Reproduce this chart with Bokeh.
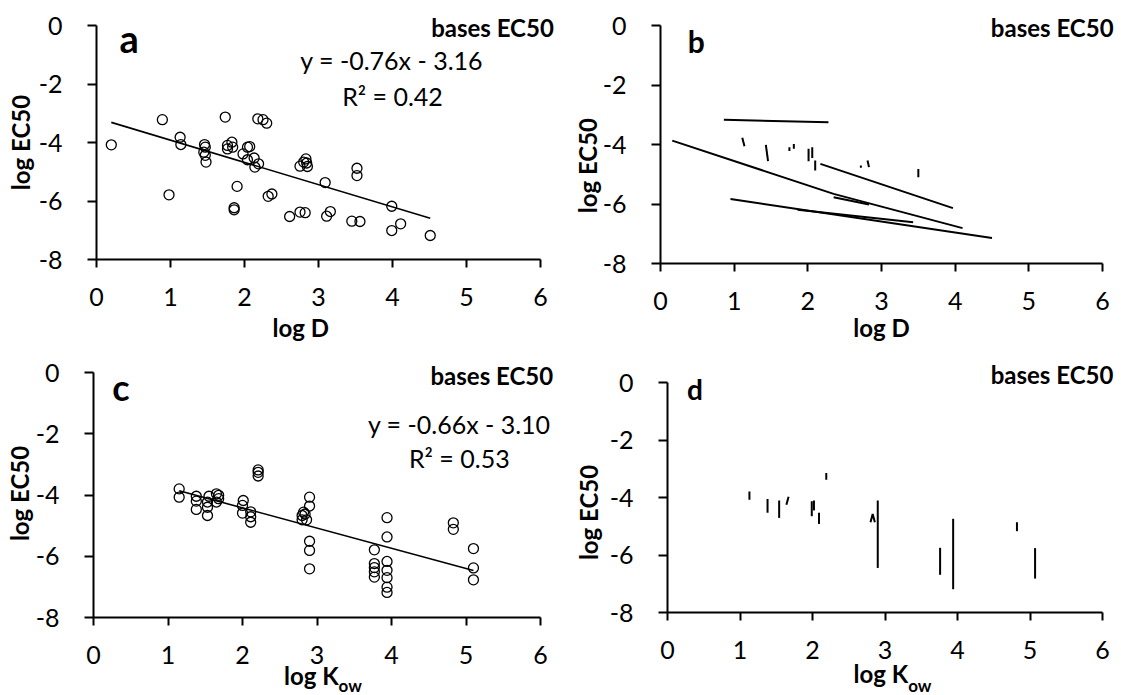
import math
from bokeh.plotting import figure
from bokeh.models import Range1d, FixedTicker, Label
from bokeh.layouts import gridplot
from bokeh.embed import file_html
from bokeh.resources import INLINE

# ---------------- data ----------------
x_ticks = [0, 1, 2, 3, 4, 5, 6]
y_ticks = [-8, -6, -4, -2, 0]
y_tick_labels = {-8: "-8", -6: "-6", -4: "-4", -2: "-2", 0: "0"}

# panel a: log D vs log EC50
a_x = [0.20, 0.89, 0.98, 1.13, 1.14, 1.46, 1.47, 1.45, 1.47, 1.48, 1.74, 1.77, 1.77,
       1.83, 1.84, 1.90, 1.86, 1.86, 1.98, 2.04, 2.07, 2.04, 2.13, 2.14, 2.19, 2.18,
       2.25, 2.30, 2.32, 2.37, 2.61, 2.75, 2.82, 2.75, 2.80, 2.83, 2.85, 2.84, 3.09,
       3.11, 3.16, 3.45, 3.56, 3.52, 3.52, 3.99, 3.99, 4.11, 4.51]
a_y = [-4.08, -3.22, -5.79, -3.82, -4.07, -4.07, -4.16, -4.33, -4.44, -4.67, -3.13, -4.10, -4.22,
       -3.99, -4.16, -5.50, -6.23, -6.30, -4.39, -4.16, -4.14, -4.59, -4.53, -4.84, -4.73, -3.19,
       -3.22, -3.34, -5.84, -5.76, -6.53, -6.38, -6.40, -4.81, -4.67, -4.56, -4.82, -4.70, -5.37,
       -6.52, -6.36, -6.69, -6.70, -4.88, -5.13, -6.18, -7.01, -6.78, -7.18]
a_slope, a_icpt, a_r2 = -0.76, -3.16, 0.42

# panel b: per-compound lines, log D vs log EC50
b_xs = [[0.86, 2.28], [0.16, 2.35, 4.10], [2.35, 2.83], [0.95, 4.50], [1.86, 3.43],
        [2.17, 3.97], [1.11, 1.14], [1.43, 1.46], [1.75, 1.75], [1.81, 1.81],
        [2.01, 2.01], [2.06, 2.06], [2.10, 2.10], [2.72, 2.72], [2.81, 2.83], [3.50, 3.50]]
b_ys = [[-3.17, -3.25], [-3.87, -5.66, -6.81], [-5.77, -6.02], [-5.83, -7.14], [-6.19, -6.61],
        [-4.65, -6.14], [-3.77, -4.06], [-4.01, -4.56], [-4.09, -4.22], [-3.98, -4.14],
        [-4.14, -4.56], [-4.09, -4.45], [-4.54, -4.87], [-4.71, -4.78], [-4.54, -4.76], [-4.82, -5.10]]

# panel c: log Kow vs log EC50
c_x = [1.15, 1.15, 1.38, 1.38, 1.38, 1.55, 1.53, 1.53, 1.53, 1.65, 1.68, 1.65, 1.68,
       2.01, 2.00, 2.00, 2.11, 2.11, 2.11, 2.21, 2.21, 2.21, 2.82, 2.80, 2.80, 2.86,
       2.84, 2.90, 2.90, 2.90, 2.90, 2.90, 3.77, 3.77, 3.77, 3.77, 3.77, 3.94, 3.94,
       3.94, 3.94, 3.94, 3.94, 3.94, 4.83, 4.83, 5.10, 5.10, 5.10]
c_y = [-3.80, -4.07, -4.04, -4.20, -4.47, -4.04, -4.23, -4.40, -4.67, -3.96, -4.01, -4.23, -4.12,
       -4.18, -4.34, -4.59, -4.55, -4.71, -4.89, -3.18, -3.26, -3.38, -4.56, -4.67, -4.81, -4.81,
       -4.62, -4.07, -4.36, -5.51, -5.81, -6.41, -5.79, -6.24, -6.37, -6.51, -6.68, -4.74, -5.37,
       -6.17, -6.46, -6.70, -7.01, -7.18, -4.91, -5.12, -5.75, -6.38, -6.77]
c_slope, c_icpt, c_r2 = -0.66, -3.10, 0.53

# panel d: per-compound lines, log Kow vs log EC50
d_xs = [[1.13, 1.13], [1.38, 1.38], [1.54, 1.54], [1.67, 1.64], [1.99, 1.99], [2.02, 2.02],
        [2.09, 2.09], [2.19, 2.19], [2.80, 2.83, 2.86], [2.90, 2.90], [3.76, 3.76],
        [3.94, 3.94], [4.82, 4.82], [5.07, 5.07]]
d_ys = [[-3.79, -4.08], [-4.05, -4.53], [-4.10, -4.71], [-3.97, -4.25], [-4.13, -4.65], [-4.10, -4.45],
        [-4.53, -4.92], [-3.15, -3.38], [-4.86, -4.57, -4.86], [-4.10, -6.45], [-5.75, -6.69],
        [-4.74, -7.19], [-4.86, -5.17], [-5.76, -6.82]]

FONT = "Lato"
TICK_SIZE = "25px"
X0, X1, Y0, Y1 = 0, 6, -8, 0
SCALE = {}


def make_fig(name, w, h, fl, fr, ft, fb):
    """Figure whose frame fills the canvas; the axes box (0..6, -8..0) sits at
    pixels fl..fr (horizontal) and ft..fb (vertical)."""
    kx = (X1 - X0) / (fr - fl)
    ky = (Y1 - Y0) / (fb - ft)
    SCALE[name] = (kx, ky)
    xr = Range1d(X0 - fl * kx, X1 + (w - fr) * kx)
    yr = Range1d(Y0 - (h - fb) * ky, Y1 + ft * ky)
    p = figure(width=w, height=h, x_range=xr, y_range=yr, name=name,
               output_backend="svg", toolbar_location=None,
               min_border=0, min_border_left=0, min_border_right=0,
               min_border_top=0, min_border_bottom=0)
    p.outline_line_color = None
    p.grid.visible = False
    p.xaxis.fixed_location = Y0
    p.yaxis.fixed_location = X0
    p.xaxis.bounds = (X0, X1)
    p.yaxis.bounds = (Y0, Y1)
    p.xaxis.ticker = FixedTicker(ticks=x_ticks)
    p.yaxis.ticker = FixedTicker(ticks=y_ticks)
    p.yaxis.major_label_overrides = y_tick_labels
    for ax in (p.xaxis[0], p.yaxis[0]):
        ax.axis_line_width = 2
        ax.axis_line_color = "black"
        ax.major_tick_line_width = 2
        ax.major_tick_line_color = "black"
        ax.major_tick_in = 0
        ax.minor_tick_line_color = None
        ax.major_label_text_font = FONT
        ax.major_label_text_font_size = TICK_SIZE
        ax.major_label_text_color = "black"
    p.xaxis.major_tick_out = 8
    p.yaxis.major_tick_out = 9
    p.xaxis.major_label_standoff = 20
    p.yaxis.major_label_standoff = 25
    return p


def lab(p, x, y, text, size, bold=False, align="left", vertical=False):
    """x, y: anchor in data units (baseline for horizontal text, centre for vertical)."""
    kx, ky = SCALE[p.name]
    if vertical:
        x = x - 0.2 * size * kx
        p.add_layout(Label(x=x, y=y, text=text, text_font=FONT, text_font_size="%dpx" % size,
                           text_font_style="bold" if bold else "normal", text_align="center",
                           text_baseline="middle", angle=math.pi / 2, text_color="black"))
    else:
        y = y + 0.41 * size * ky
        p.add_layout(Label(x=x, y=y, text=text, text_font=FONT, text_font_size="%dpx" % size,
                           text_font_style="bold" if bold else "normal", text_align=align,
                           text_baseline="alphabetic", text_color="black"))


def scatter_panel(p, xs, ys, slope, icpt):
    p.scatter(xs, ys, marker="circle", size=10, fill_alpha=0, line_color="black", line_width=1.3)
    tx = [min(xs), max(xs)]
    ty = [slope * v + icpt for v in tx]
    p.line(tx, ty, line_color="black", line_width=1.6)


# panel a  (canvas 564 x 350)
pa = make_fig("a", 564, 350, 96, 540, 25, 259)
scatter_panel(pa, a_x, a_y, a_slope, a_icpt)
lab(pa, 0.31, -0.96, "a", 38, bold=True)
lab(pa, 6.18, -0.42, "bases EC50", 24, bold=True, align="right")
lab(pa, 3.99, -1.54, "y = %.2fx - %.2f" % (a_slope, -a_icpt), 25, align="center")
lab(pa, 4.0, -2.77, "R\u00b2 = %.2f" % a_r2, 25, align="center")
lab(pa, 2.76, -10.67, "log D", 24, bold=True, align="center")
lab(pa, -0.96, -4.0, "log EC50", 24, bold=True, vertical=True)

# panel b  (canvas 556 x 350, starts at x=564)
pb = make_fig("b", 556, 350, 96, 538, 25, 263)
pb.multi_line(b_xs, b_ys, line_color="black", line_width=2)
lab(pb, 0.37, -0.94, "b", 30, bold=True)
lab(pb, 6.15, -0.41, "bases EC50", 24, bold=True, align="right")
lab(pb, 3.0, -10.49, "log D", 24, bold=True, align="center")
lab(pb, -0.92, -4.71, "log EC50", 24, bold=True, vertical=True)

# panel c  (canvas 564 x 345, starts at y=350)
pc = make_fig("c", 564, 345, 93, 540, 22, 267)
scatter_panel(pc, c_x, c_y, c_slope, c_icpt)
lab(pc, 0.25, -0.97, "c", 36, bold=True)
lab(pc, 6.17, -0.42, "bases EC50", 24, bold=True, align="right")
lab(pc, 4.91, -2.0, "y = %.2fx - %.2f" % (c_slope, -c_icpt), 25, align="center")
lab(pc, 4.91, -3.14, "R\u00b2 = %.2f" % c_r2, 25, align="center")
lab(pc, 3.29, -10.22, "log K", 24, bold=True, align="right")
lab(pc, 3.29, -10.45, "ow", 17, bold=True, align="left")
lab(pc, -0.93, -3.95, "log EC50", 24, bold=True, vertical=True)

# panel d  (canvas 556 x 345)
pd_ = make_fig("d", 556, 345, 103, 538, 32, 262)
pd_.multi_line(d_xs, d_ys, line_color="black", line_width=2)
lab(pd_, 0.27, -0.63, "d", 28, bold=True)
lab(pd_, 6.15, -0.07, "bases EC50", 24, bold=True, align="right")
lab(pd_, 3.32, -10.47, "log K", 24, bold=True, align="right")
lab(pd_, 3.32, -10.78, "ow", 17, bold=True, align="left")
lab(pd_, -1.02, -4.52, "log EC50", 24, bold=True, vertical=True)

grid = gridplot([[pa, pb], [pc, pd_]], toolbar_location=None)

open("out.html", "w").write(file_html(grid, INLINE))
